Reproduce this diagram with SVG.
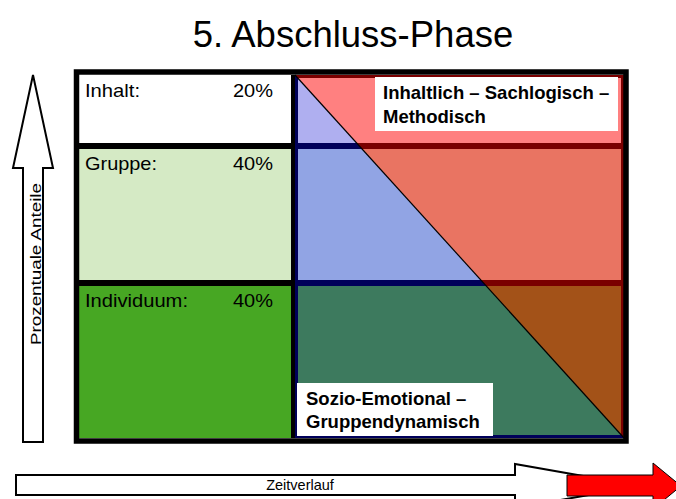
<svg xmlns="http://www.w3.org/2000/svg" width="676" height="499" viewBox="0 0 676 499">
<style>
text{font-family:"Liberation Sans",Arial,sans-serif;fill:#000}
.lbl{font-size:18.5px}
.bold{font-size:18.5px;font-weight:bold}
.arrow{fill:#fff;stroke:#000;stroke-width:2;stroke-linejoin:miter}
</style>
<defs>
<clipPath id="tri"><polygon points="295,75 295,438 624,438"/></clipPath>
</defs>
<rect width="676" height="499" fill="#fff"/>
<text x="353" y="47" font-size="36.5" text-anchor="middle">5. Abschluss-Phase</text>

<g id="left-column">
<rect x="79" y="75" width="212" height="68" fill="#fff"/>
<rect x="79" y="149" width="212" height="131" fill="#d5eac5"/>
<rect x="79" y="286" width="212" height="152" fill="#47a723"/>
</g>

<g id="right-area">
<g id="sachlogisch-layer">
<rect x="295" y="75" width="329" height="68" fill="#ff8080"/>
<rect x="295" y="149" width="329" height="131" fill="#e97462"/>
<rect x="295" y="286" width="329" height="152" fill="#a35218"/>
<rect x="295" y="143" width="329" height="6" fill="#7a0000"/>
<rect x="295" y="280" width="329" height="6" fill="#7a0000"/>
<rect x="296.5" y="76.5" width="326" height="360" fill="none" stroke="#7a0000" stroke-width="3"/>
</g>
<g id="sozio-layer" clip-path="url(#tri)">
<rect x="295" y="75" width="329" height="68" fill="#afaff0"/>
<rect x="295" y="149" width="329" height="131" fill="#91a4e4"/>
<rect x="295" y="286" width="329" height="152" fill="#3d7a5e"/>
<rect x="295" y="143" width="329" height="6" fill="#00005a"/>
<rect x="295" y="280" width="329" height="6" fill="#00005a"/>
<rect x="296.5" y="76.5" width="326" height="360" fill="none" stroke="#00005a" stroke-width="3"/>
</g>
<line x1="295" y1="75" x2="624" y2="438" stroke="#000" stroke-width="1.2"/>
</g>

<g id="frame">
<rect x="76.5" y="72" width="549.5" height="369" fill="none" stroke="#000" stroke-width="5.5"/>
<rect x="291" y="75" width="4" height="363" fill="#000"/>
<rect x="79" y="143" width="212" height="6" fill="#000"/>
<rect x="79" y="280" width="212" height="6" fill="#000"/>
</g>

<g id="node-inhalt">
<text class="lbl" x="85" y="97" textLength="55" lengthAdjust="spacingAndGlyphs">Inhalt:</text>
<text class="lbl" x="233" y="97" textLength="40" lengthAdjust="spacingAndGlyphs">20%</text>
</g>
<g id="node-gruppe">
<text class="lbl" x="85" y="170" textLength="72" lengthAdjust="spacingAndGlyphs">Gruppe:</text>
<text class="lbl" x="233" y="170" textLength="40" lengthAdjust="spacingAndGlyphs">40%</text>
</g>
<g id="node-individuum">
<text class="lbl" x="85" y="307" textLength="103" lengthAdjust="spacingAndGlyphs">Individuum:</text>
<text class="lbl" x="233" y="307" textLength="40" lengthAdjust="spacingAndGlyphs">40%</text>
</g>

<g id="node-sachlogisch">
<rect x="375" y="77" width="243" height="54" fill="#fff"/>
<text class="bold" x="383" y="99">Inhaltlich – Sachlogisch –</text>
<text class="bold" x="383" y="123">Methodisch</text>
</g>
<g id="node-sozio">
<rect x="297" y="383" width="196" height="53" fill="#fff"/>
<text class="bold" x="306" y="405">Sozio-Emotional –</text>
<text class="bold" x="306" y="428">Gruppendynamisch</text>
</g>

<g id="connectors">
<polygon class="arrow" points="23,442 23,168 13,168 33,75 53,168 43,168 43,442"/>
<text transform="translate(41,345) rotate(-90)" font-size="15.5" textLength="162" lengthAdjust="spacingAndGlyphs">Prozentuale Anteile</text>
<polygon class="arrow" points="16,475 515,475 515,464 640,486 515,508 515,495 16,495"/>
<text x="300" y="490" font-size="14.5" text-anchor="middle">Zeitverlauf</text>
<polygon points="567,475 653,475 653,463 681,486 653,509 653,496 567,496" fill="#ff0000" stroke="#000" stroke-width="1"/>
</g>
</svg>
